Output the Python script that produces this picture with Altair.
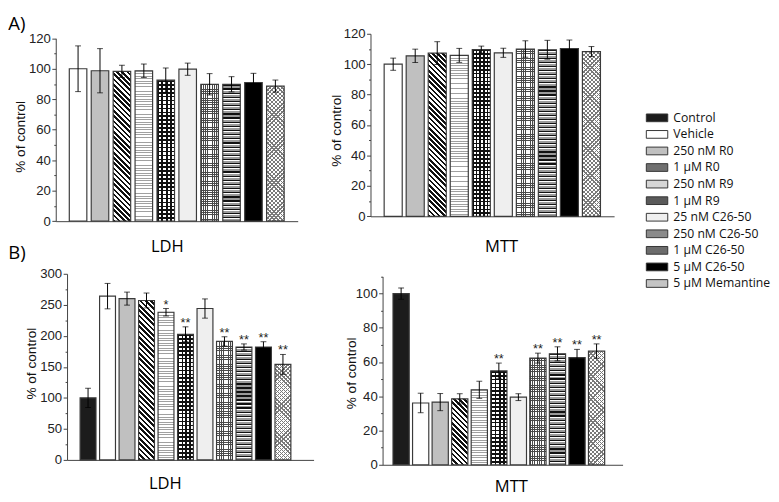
import math
import altair as alt
import pandas as pd

# ---------------- data ----------------
cats_all = ["Control", "Vehicle", "250 nM R0", "1 µM R0", "250 nM R9", "1 µM R9",
            "25 nM C26-50", "250 nM C26-50", "1 µM C26-50", "5 µM C26-50", "5 µM Memantine"]
cats_A = cats_all[1:]

a_ldh_mean = [100, 98.7, 98.3, 98.7, 92.5, 99.7, 89.8, 89.8, 91.0, 88.6]
a_ldh_err = [15, 14.5, 4, 4.4, 8, 4, 7, 5, 6, 4]

a_mtt_mean = [100, 105.5, 107.3, 105.8, 109.6, 107.5, 110.0, 109.5, 110.3, 108.3]
a_mtt_err = [4, 4.4, 7.5, 4.6, 2.3, 3, 5.4, 6.2, 5.6, 3.3]

b_ldh_mean = [100, 264, 260, 257, 238, 202.5, 244, 191, 182, 182, 154]
b_ldh_err = [15.5, 20.5, 10.5, 12, 6, 12, 15.5, 7.5, 5, 8.5, 16]
b_ldh_sig = ["", "", "", "", "*", "**", "", "**", "**", "**", "**"]

b_mtt_mean = [100, 36.1, 36.6, 38.5, 43.8, 54.8, 39.5, 62.3, 64.8, 62.6, 66.4]
b_mtt_err = [3.3, 5.7, 5, 3, 5, 4.6, 2, 2.9, 4.1, 4.8, 4.2]
b_mtt_sig = ["", "", "", "", "", "**", "", "**", "**", "**", "**"]

# legend swatch greys (average tone of each hatch)
legend_greys = ["#1c1c1c", "#ffffff", "#c0c0c0", "#707070", "#d6d6d6", "#5a5a5a",
                "#efefef", "#8a8a8a", "#6c6c6c", "#000000", "#c4c4c4"]

# ---------------- hatch helpers (linear gradients with hard stops) ----------------
def cyc(colfr, n):
    stops = []
    for i in range(n):
        acc = 0.0
        for c, f in colfr:
            o0 = (i + acc) / n
            acc += f
            o1 = (i + acc) / n
            stops.append({"offset": round(min(o0, 1), 5), "color": c})
            stops.append({"offset": round(min(o1, 1), 5), "color": c})
    return stops


def hstripes(colfr, w, h, p):
    n = max(1, int(round(h / p)))
    return {"gradient": "linear", "x1": 0, "y1": 0, "x2": 0, "y2": 1, "stops": cyc(colfr, n)}


def vstripes(colfr, w, h, p):
    n = max(1, int(round(w / p)))
    return {"gradient": "linear", "x1": 0, "y1": 0, "x2": 1, "y2": 0, "stops": cyc(colfr, n)}


def dback(colfr, w, h, p):
    r = h / w
    lam = (1 + r) / (1 + r * r)
    n = max(1, int(round((w + h) / (p * math.sqrt(2)))))
    return {"gradient": "linear", "x1": 0, "y1": 1, "x2": round(lam, 5), "y2": round(1 - lam * r, 5),
            "stops": cyc(colfr, n)}


def dfwd(colfr, w, h, p):
    r = h / w
    lam = (1 + r) / (1 + r * r)
    n = max(1, int(round((w + h) / (p * math.sqrt(2)))))
    return {"gradient": "linear", "x1": 0, "y1": 0, "x2": round(lam, 5), "y2": round(lam * r, 5),
            "stops": cyc(colfr, n)}


CLEAR = "rgba(0,0,0,0)"

# category -> (base pattern, overlay pattern)
def patterns(cat, w, h):
    if cat == "1 µM R0":
        return dback([("#111111", 0.5), ("#ffffff", 0.5)], w, h, 3.8), None
    if cat == "250 nM R9":
        return hstripes([("#a0a0a0", 0.35), ("#ffffff", 0.65)], w, h, 2.6), None
    if cat == "1 µM R9":
        return (hstripes([("#111111", 0.42), ("#ffffff", 0.58)], w, h, 4.0),
                vstripes([("#111111", 0.42), (CLEAR, 0.58)], w, h, 4.0))
    if cat == "250 nM C26-50":
        return (hstripes([("#4a4a4a", 0.35), ("#ffffff", 0.65)], w, h, 2.3),
                vstripes([("#4a4a4a", 0.35), (CLEAR, 0.65)], w, h, 2.3))
    if cat == "1 µM C26-50":
        return hstripes([("#111111", 0.3), ("#ffffff", 0.22), ("#9a9a9a", 0.48)], w, h, 4.2), None
    if cat == "5 µM Memantine":
        return (dfwd([("#7a7a7a", 0.32), ("#ffffff", 0.68)], w, h, 3.0),
                dback([("#7a7a7a", 0.32), (CLEAR, 0.68)], w, h, 3.0))
    return None, None


color_scale = alt.Scale(domain=cats_all, range=legend_greys)
legend = alt.Legend(orient="none", legendX=610.8, legendY=80, title=None,
                    symbolType="M-2,-0.72H2V0.72H-2Z", symbolSize=121,
                    symbolStrokeColor="#333333", symbolStrokeWidth=1, symbolOpacity=1,
                    labelFont="Open Sans", labelFontSize=12.5, labelColor="#111111",
                    labelOffset=10.5, rowPadding=4.0, padding=0)

AX = "#404040"


def panel(cats, means, errs, sigs, width, height, xrange, yrange, ydom, major, minor,
          yoff, pin, pout, align, xtitle, xtx, xty, ytx, yty, title=None):
    df = pd.DataFrame({"cat": cats, "mean": means, "err": errs})
    if sigs is not None:
        df["sig"] = sigs
    n = len(cats)
    span = xrange[1] - xrange[0]
    step = span / (n - pin + 2 * pout)
    bw = step * (1 - pin)
    ppu = (yrange[0] - yrange[1]) / (ydom[1] - ydom[0])

    base_conds, over_conds = [], []
    for c, m in zip(cats, means):
        b, o = patterns(c, bw, m * ppu)
        if b is not None:
            base_conds.append({"test": f"datum.cat === '{c}'", "value": b})
        if o is not None:
            over_conds.append({"test": f"datum.cat === '{c}'", "value": o})

    tick_vals = list(range(ydom[0], ydom[1] + 1, minor))
    xscale = alt.Scale(domain=cats, range=xrange, paddingInner=pin, paddingOuter=pout, align=align)
    yscale = alt.Scale(domain=list(ydom), range=yrange, nice=False, zero=True)
    xaxis = alt.Axis(labels=False, ticks=False, domain=True, domainColor=AX, domainWidth=1,
                     title=xtitle, titleFont="Open Sans", titleFontSize=17, titleFontWeight="normal",
                     titleColor="#000000", titleX=xtx, titleY=xty, titleAlign="center",
                     titleBaseline="alphabetic", grid=False)
    yaxis = alt.Axis(values=tick_vals, labelExpr=f"datum.value % {major} === 0 ? datum.label : ''",
                     tickSize={"condition": {"test": f"datum.value % {major} !== 0", "value": 2}, "value": 4},
                     tickColor=AX, tickWidth=1, domainColor=AX, domainWidth=1,
                     labelFont="Liberation Sans", labelFontSize=13.5, labelColor="#222222",
                     labelPadding=1.5, labelOverlap=False, labelFlush=False,
                     title="% of control", titleFont="Liberation Sans", titleFontSize=14,
                     titleFontWeight="normal", titleColor="#111111", titleX=ytx, titleY=yty,
                     titleAngle=270, titleAlign="center", titleBaseline="middle",
                     offset=yoff, grid=False)
    x = alt.X("cat:N", scale=xscale, axis=xaxis, sort=cats)

    base = alt.Chart(df)
    layers = [
        base.mark_bar(strokeWidth=0).encode(
            x=x, y=alt.Y("mean:Q", scale=yscale, axis=yaxis),
            fill=alt.Fill("cat:N", scale=color_scale, legend=legend, condition=base_conds)),
    ]
    if over_conds:
        layers.append(base.mark_bar(strokeWidth=0).encode(
            x=x, y=alt.Y("mean:Q", scale=yscale, axis=yaxis),
            fill=alt.FillValue(CLEAR, condition=over_conds)))
    layers.append(base.mark_bar(fillOpacity=0, stroke="#3a3a3a", strokeWidth=1.2).encode(
        x=x, y=alt.Y("mean:Q", scale=yscale, axis=yaxis)))
    layers.append(base.mark_rule(color="#000000", strokeWidth=1).encode(
        x=x, y=alt.Y("lo:Q", scale=yscale, axis=yaxis), y2="hi:Q"))
    layers.append(base.mark_tick(color="#000000", thickness=1, size=6).encode(
        x=x, y=alt.Y("lo:Q", scale=yscale, axis=yaxis)))
    layers.append(base.mark_tick(color="#000000", thickness=1, size=6).encode(
        x=x, y=alt.Y("hi:Q", scale=yscale, axis=yaxis)))
    if sigs is not None:
        layers.append(base.mark_text(font="Liberation Sans", fontSize=13, color="#222222",
                                     baseline="alphabetic", align="center", dy=0).encode(
            x=x, y=alt.Y("hi:Q", scale=yscale, axis=yaxis), text="sig:N"))

    props = dict(width=width, height=height)
    if title is not None:
        props["title"] = title
    return alt.layer(*layers).transform_calculate(
        lo="datum.mean - datum.err", hi="datum.mean + datum.err").properties(**props)


title_a = alt.TitleParams("A)", anchor="start", frame="group", orient="top", font="Open Sans",
                          fontSize=19, fontWeight="normal", color="#000000", baseline="alphabetic",
                          offset=0, dx=-48.7, dy=17.3)
title_b = alt.TitleParams("B)", anchor="start", frame="group", orient="top", font="Open Sans",
                          fontSize=19, fontWeight="normal", color="#000000", baseline="alphabetic",
                          offset=0, dx=-48.7, dy=10.7)

a_ldh = panel(cats_A, a_ldh_mean, a_ldh_err, None, 248.3, 192.3, [0, 248.3], [192.3, 4.6], (0, 120), 20, 10,
              0, 0.2, 0.618, 0.5, "LDH", 114, 31, -36, 105.3, title_a)
a_mtt = panel(cats_A, a_mtt_mean, a_mtt_err, None, 250, 187.3, [0, 250], [187.3, 0], (0, 120), 20, 10,
              0, 0.18, 0.62, 0.5, "MTT", 134, 36, -34.3, 99)
b_ldh = panel(cats_all, b_ldh_mean, b_ldh_err, b_ldh_sig, 264.6, 191, [11.6, 264.6], [191, 0], (0, 300), 50, 25,
              -11.6, 0.185, 0.9175, 0.365, "LDH", 112, 29.7, -36.6, 91.7, title_b)
b_mtt = panel(cats_all, b_mtt_mean, b_mtt_err, b_mtt_sig, 258.7, 196, [12.4, 258.7], [196, 2.7], (0, 110), 20, 10,
              -12.4, 0.17, 0.725, 0.368, "MTT", 144, 27.7, -31.7, 101.7)

chart = alt.concat(a_ldh, a_mtt, b_ldh, b_mtt, columns=2,
                   spacing={"row": 53.3, "column": 58}, bounds="flush").properties(
    padding=0, background="white"
).configure_view(stroke=None)

chart.save("out.html", embed_options={"renderer": "svg", "actions": False})
